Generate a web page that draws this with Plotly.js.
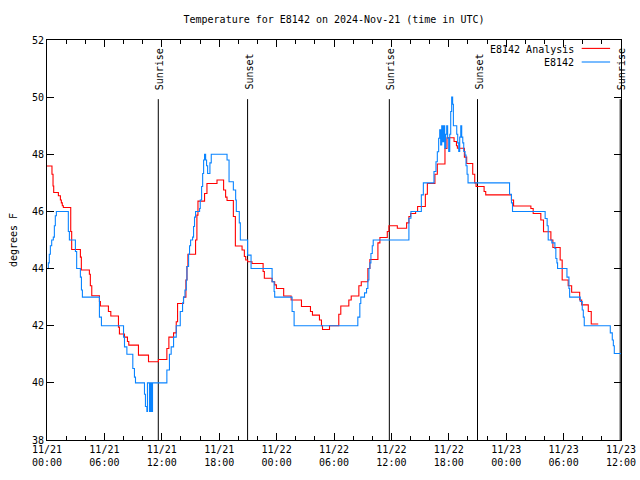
<!DOCTYPE html>
<html>
<head>
<meta charset="utf-8">
<script src="https://cdn.plot.ly/plotly-3.0.1.min.js"></script>
<style>html,body{margin:0;padding:0;background:#fff;}#chart{width:640px;height:480px;}</style>
</head>
<body>
<div id="chart"></div>
<script>
// Hours after 2024-11-21 00:00 UTC, and temperatures (deg F)
const obsHours = [0,0.14,0.24,0.35,0.49,0.66,0.77,0.87,0.98,2.23,2.34,2.48,2.97,3.1,3.49,3.6,3.7,5.48,5.69,8.0,8.1,8.35,8.97,9.14,9.25,10.19,10.29,10.44,10.5,10.71,10.82,10.92,11.03,12.53,12.8,12.98,13.23,13.51,13.93,14.17,14.27,14.42,14.56,14.63,14.8,14.9,15.01,15.22,15.32,15.42,15.53,15.95,16.02,16.16,16.27,16.37,16.47,16.58,16.68,16.79,17.03,17.17,18.82,19.03,19.48,19.72,19.79,20.1,20.21,20.97,21.07,21.33,23.53,23.74,23.8,25.62,25.83,32.49,32.7,32.8,33.19,33.4,33.54,33.65,33.75,33.86,34.0,34.1,37.83,38.04,39.13,39.34,40.45,40.66,40.8,40.94,41.05,41.15,41.26,41.36,41.47,41.57,41.68,41.78,41.88,41.99,42.1,42.2,42.3,42.4,42.48,42.83,42.93,43.04,43.14,43.25,43.35,43.46,43.56,43.7,43.8,43.91,44.01,48.35,48.55,48.66,52.07,52.28,52.39,52.77,53.09,53.19,53.3,53.37,54.35,54.56,54.63,55.74,55.95,56.06,56.16,58.88,59.09,59.2,59.3,60];
const obsTemps = [44.0,44.2,44.5,44.8,45.0,45.1,45.5,45.85,46.0,45.3,45.0,45.0,44.6,44.0,43.7,43.25,43.0,42.3,42.0,41.6,41.26,41.0,40.5,40.2,40.0,39.6,39.17,39.0,40.0,39.0,40.0,39.0,40.0,40.45,41.0,41.26,41.6,42.0,42.5,42.8,43.0,43.25,43.6,44.07,44.5,44.8,45.0,45.1,45.47,45.8,46.0,46.1,46.4,46.87,47.33,47.8,48.0,47.8,47.6,47.33,47.7,48.0,47.8,47.04,46.75,46.4,46.0,45.6,45.0,44.47,44.47,44.0,43.54,43.2,43.0,42.5,42.0,42.3,42.78,43.0,43.15,43.3,43.6,44.0,44.2,44.53,44.8,45.0,45.76,46.0,46.58,47.0,47.4,47.74,48.09,48.56,48.86,48.33,49.0,48.44,49.0,48.21,48.7,49.0,48.56,48.1,48.7,49.5,50.0,49.75,49.0,48.7,48.4,48.1,48.6,49.0,48.6,48.4,48.1,47.97,47.6,47.3,47.0,46.6,46.3,46.0,45.75,45.5,45.0,44.9,44.7,44.35,44.2,44.0,43.7,43.3,43.0,42.85,42.55,42.3,42.0,41.75,41.5,41.3,41.03,41.0];

const anaHours = [0,0.52,0.63,0.7,1.19,1.4,1.5,1.6,1.71,2.48,2.58,3.49,3.59,4.43,4.53,4.68,5.48,5.58,6.42,6.67,7.47,7.57,8.1,8.41,8.55,9.56,10.61,11.65,12.53,12.74,13.23,13.51,13.65,14.27,14.52,14.63,14.73,15.53,15.67,15.78,16.47,16.72,17.77,18.46,18.67,18.82,19.48,19.69,20.39,20.63,20.77,20.97,21.43,22.59,22.72,23.53,23.8,23.98,24.74,25.52,26.6,27.54,27.75,28.48,28.69,28.8,29.53,30.5,30.71,31.55,31.8,32.6,32.85,33.54,33.75,34.59,34.8,35.57,35.74,36.62,37.59,37.83,38.01,38.53,38.74,39.55,39.76,40.55,40.8,41.6,41.81,42.55,42.8,42.9,43.63,43.87,44.5,44.71,44.85,45.69,45.86,48.55,48.77,50.58,50.82,51.62,51.9,52.67,52.88,53.64,53.85,54.48,54.84,55.68,55.89,56.58,56.89,57.62];
const anaTemps = [47.59,47.3,46.89,46.66,46.55,46.4,46.3,46.2,46.14,45.3,44.67,44.4,43.95,43.8,43.4,43.05,42.85,42.69,42.5,42.34,41.95,41.71,41.6,41.45,41.32,40.97,40.74,40.82,41.2,41.6,41.75,42.14,42.78,43.0,43.6,44.07,44.5,45.0,45.87,46.36,46.63,46.98,47.1,46.75,46.5,46.38,45.82,44.79,44.65,44.42,44.3,44.24,44.18,43.9,43.66,43.54,43.43,43.3,43.04,42.9,42.67,42.5,42.37,42.2,42.0,41.87,42.0,42.4,42.69,42.9,43.04,43.4,43.54,44.0,44.32,44.9,45.09,45.3,45.5,45.41,45.6,45.82,45.93,46.0,46.17,46.6,46.98,47.3,47.66,48.2,48.58,48.45,48.3,48.21,47.9,47.68,47.3,47.0,46.87,46.7,46.58,46.4,46.19,46.1,45.93,45.7,45.29,45.0,44.74,44.3,43.6,43.4,43.17,42.9,42.73,42.5,42.06,42.06];

const sunEventTimes = ['2024-11-21 11:38','2024-11-21 20:58','2024-11-22 11:47','2024-11-22 21:00','2024-11-23 11:55'];
const sunEventLabels = ['Sunrise','Sunset','Sunrise','Sunset','Sunrise'];

const seriesNames = ['E8142 Analysis','E8142'];
const seriesColors = ['#ff0000','#0a84ff'];

const base = Date.UTC(2024,10,21,0,0,0);
function toDate(h){ return new Date(base + Math.round(h*3600000)).toISOString().replace('T',' ').slice(0,19); }

const font = {family:'DejaVu Sans Mono, monospace', size:10, color:'#000'};

const traces = [
  {x: anaHours.map(toDate), y: anaTemps, name: seriesNames[0], type:'scatter', mode:'lines',
   line:{color:seriesColors[0], width:1.1, shape:'hv'}},
  {x: obsHours.map(toDate), y: obsTemps, name: seriesNames[1], type:'scatter', mode:'lines',
   line:{color:seriesColors[1], width:1.1, shape:'hv'}}
];

const shapes = sunEventTimes.map(t => ({type:'line', xref:'x', yref:'y', x0:t, x1:t, y0:38, y1:49.93,
  line:{color:'#000', width:1}, layer:'below'}));
const annotations = sunEventTimes.map((t,i) => ({x:t, y:50.18, xref:'x', yref:'y', text:sunEventLabels[i],
  textangle:-90, showarrow:false, xanchor:'center', yanchor:'bottom', xshift:1, font:font}));

// legend (gnuplot style: text then sample)
seriesNames.forEach((n,i) => {
  const py = i === 0 ? 0.977 : 0.943;
  annotations.push({xref:'paper', yref:'paper', x:0.9215, y:py, text:n, showarrow:false,
    xanchor:'right', yanchor:'middle', font:font});
  shapes.push({type:'line', xref:'paper', yref:'paper', x0:0.9315, x1:0.981, y0:py+0.002, y1:py+0.002,
    line:{color:seriesColors[i], width:1.1}});
});

const layout = {
  width:640, height:480,
  margin:{l:47, r:19, t:40, b:40, pad:0},
  paper_bgcolor:'#fff', plot_bgcolor:'#fff',
  showlegend:false,
  font:font,
  title:{text:'Temperature for E8142 on 2024-Nov-21 (time in UTC)', font:font, x:0.5, xref:'paper', y:0.96, yref:'container', yanchor:'middle'},
  xaxis:{type:'date', range:['2024-11-21 00:00','2024-11-23 12:00'], tick0:'2024-11-21 00:00', dtick:21600000,
    tickformat:'%m/%d<br>%H:%M', ticks:'inside', ticklen:7, tickcolor:'#000', showgrid:false, zeroline:false,
    showline:true, linecolor:'#000', linewidth:1, mirror:'allticks', tickfont:font,
    minor:{dtick:7200000, ticks:'inside', ticklen:4, tickcolor:'#000', showgrid:false}},
  yaxis:{range:[38,52], dtick:2, tick0:38, ticks:'inside', ticklen:7, tickcolor:'#000', showgrid:false, zeroline:false,
    showline:true, linecolor:'#000', linewidth:1, mirror:'allticks', tickfont:font,
    title:{text:'degrees F', font:font, standoff:12}},
  shapes:shapes,
  annotations:annotations
};

Plotly.newPlot('chart', traces, layout, {staticPlot:true, displayModeBar:false});
</script>
</body>
</html>
